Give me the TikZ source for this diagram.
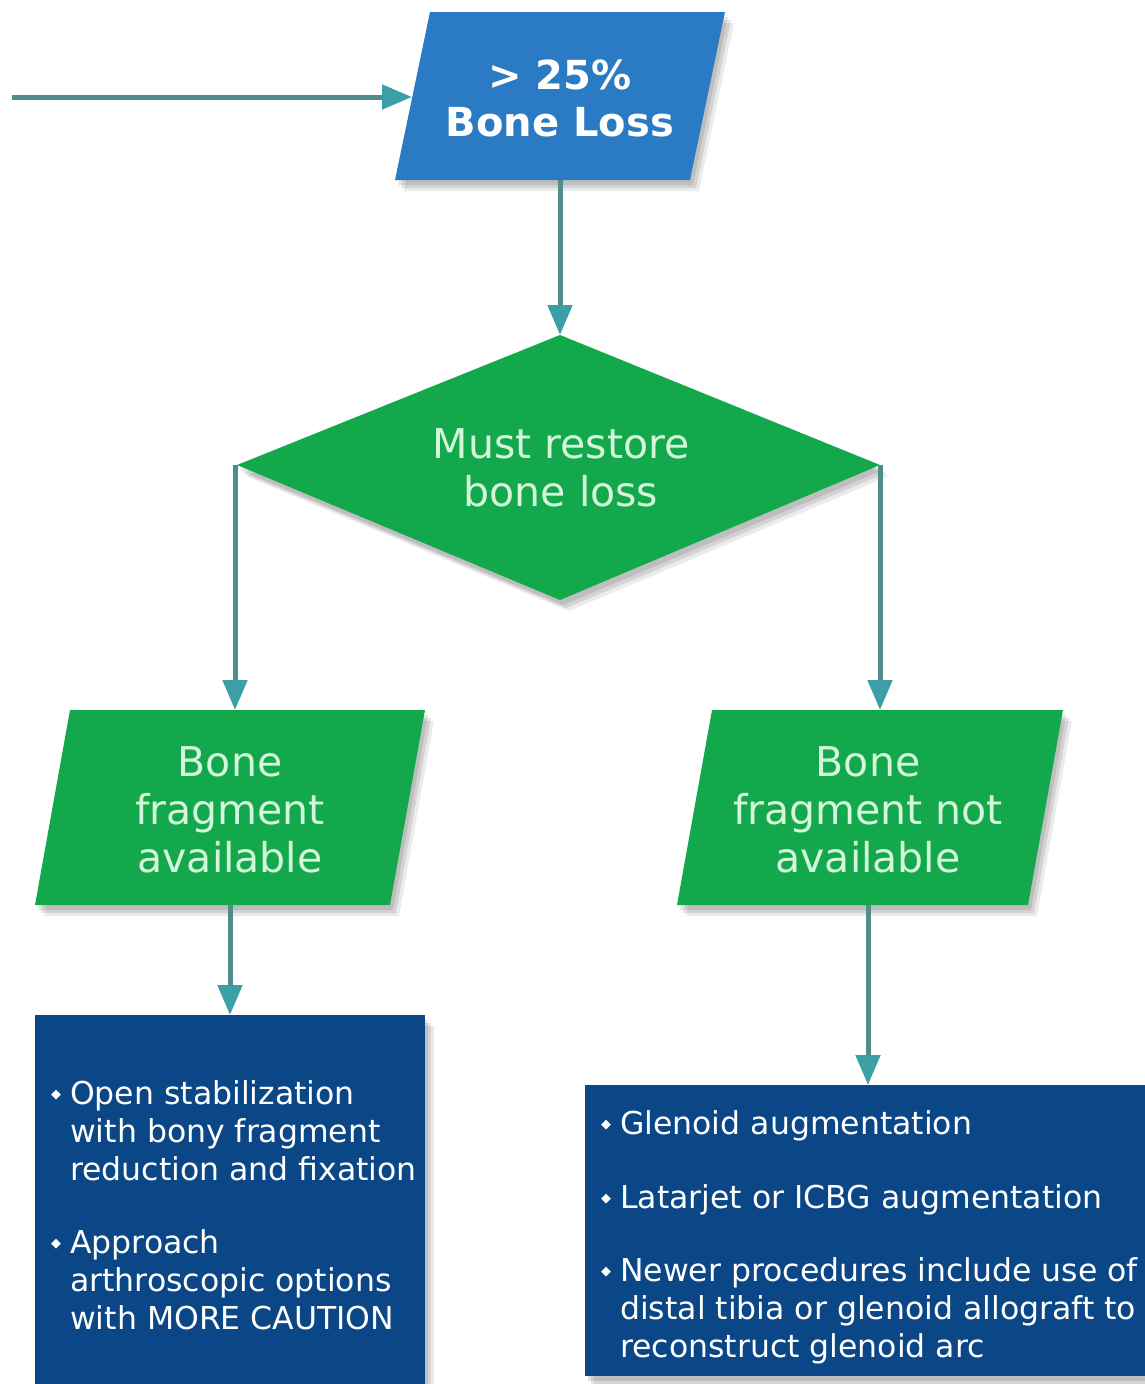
\documentclass[tikz,border=0pt]{standalone}
\usepackage{fontspec}
\setmainfont{DejaVu Sans}
\usetikzlibrary{arrows.meta,shadows}
\definecolor{topblue}{HTML}{2B7BC4}
\definecolor{flowgreen}{HTML}{13A84B}
\definecolor{navy}{HTML}{0B4786}
\definecolor{greentext}{HTML}{D4F7DC}
\definecolor{linecol}{HTML}{508C8A}
\definecolor{tipcol}{HTML}{3C9FA5}
\tikzset{
  shadowed/.style={
    drop shadow={shadow xshift=3pt, shadow yshift=-5pt, opacity=0.10, fill=black},
    drop shadow={shadow xshift=6pt, shadow yshift=-8pt, opacity=0.10, fill=black},
    drop shadow={shadow xshift=9pt, shadow yshift=-11pt, opacity=0.08, fill=black}},
  conn/.style={draw=linecol, line width=5pt, -{Triangle[length=30pt,width=24pt,color=tipcol]}},
  toptext/.style={text=white, align=center, font=\fontsize{40}{47}\selectfont\bfseries},
  greenlabel/.style={text=greentext, align=center, font=\fontsize{41}{48}\selectfont},
  boxtext/.style={text=white, align=left, anchor=north west, inner sep=0pt, font=\fontsize{31.5}{38}\selectfont},
}
\newcommand{\bul}{\llap{\raisebox{6pt}{\fontsize{13}{13}\selectfont ◆}\hspace{9pt}}}
\begin{document}
\begin{tikzpicture}[x=1pt,y=-1pt]
\useasboundingbox (0,0) rectangle (1145,1384);
% shapes
\fill[topblue, shadowed] (430,12) -- (725,12) -- (690,180) -- (395,180) -- cycle;
\fill[flowgreen, shadowed] (560,335) -- (880,465) -- (560,600) -- (237,465) -- cycle;
\fill[flowgreen, shadowed] (70,710) -- (425,710) -- (390,905) -- (35,905) -- cycle;
\fill[flowgreen, shadowed] (712,710) -- (1063,710) -- (1028,905) -- (677,905) -- cycle;
\fill[navy, shadowed] (35,1015) rectangle (425,1384);
\fill[navy, shadowed] (585,1085) rectangle (1150,1376);
% labels
\node[toptext] (top) at (560,98) {> 25\%\\Bone Loss};
\node[greenlabel] (dec) at (561,468) {Must restore\\bone loss};
\node[greenlabel] (fa) at (230,810) {Bone\\fragment\\available};
\node[greenlabel] (fna) at (868,810) {Bone\\fragment not\\available};
\node[boxtext] (l1) at (70,1080) {\bul Open stabilization\\with bony fragment\\reduction and fixation};
\node[boxtext] (l2) at (70,1229) {\bul Approach\\arthroscopic options\\with MORE CAUTION};
\node[boxtext] (r1) at (620,1110) {\bul Glenoid augmentation};
\node[boxtext] (r2) at (620,1184) {\bul Latarjet or ICBG augmentation};
\node[boxtext] (r3) at (620,1257) {\bul Newer procedures include use of\\distal tibia or glenoid allograft to\\reconstruct glenoid arc};
% connection points
\coordinate (start) at (12,97);
\coordinate (topIn) at (412,97);
\coordinate (topOut) at (560,180);
\coordinate (decTop) at (560,335);
\coordinate (decL) at (235,465);
\coordinate (decR) at (880,465);
\coordinate (faTop) at (235,710);
\coordinate (fnaTop) at (880,710);
\coordinate (faOut) at (230,905);
\coordinate (fnaOut) at (868,905);
\coordinate (lboxTop) at (230,1015);
\coordinate (rboxTop) at (868,1085);
% connectors
\draw[conn] (start) -- (topIn);
\draw[conn] (topOut) -- (decTop);
\draw[conn] (decL) -- (faTop);
\draw[conn] (decR) -- (fnaTop);
\draw[conn] (faOut) -- (lboxTop);
\draw[conn] (fnaOut) -- (rboxTop);
\end{tikzpicture}
\end{document}
